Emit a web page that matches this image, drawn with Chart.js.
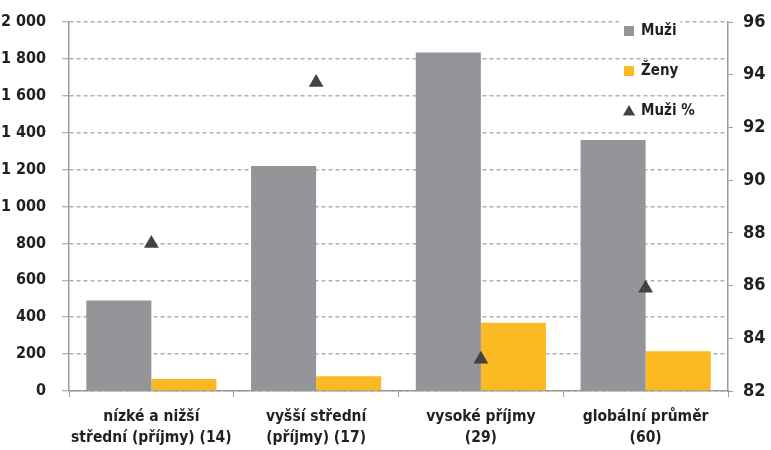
<!DOCTYPE html>
<html>
<head>
<meta charset="utf-8">
<script src="https://cdn.jsdelivr.net/npm/chart.js@4/dist/chart.umd.min.js"></script>
<style>
  html, body { margin: 0; padding: 0; background: #fff; }
  #wrap { width: 771px; height: 450px; position: relative; }
</style>
</head>
<body>
<div id="wrap"><canvas id="chart"></canvas></div>
<script>
// data
var categories = [
  ["nízké a nižší", "střední (příjmy) (14)"],
  ["vyšší střední", "(příjmy) (17)"],
  ["vysoké příjmy", "(29)"],
  ["globální průměr", "(60)"]
];
var muzi = [490, 1220, 1835, 1360];
var zeny = [65, 80, 370, 215];
var muziPct = [87.6, 93.7, 83.2, 85.9];
var leftTicks = [0, 200, 400, 600, 800, 1000, 1200, 1400, 1600, 1800, 2000];
var rightTicks = [82, 84, 86, 88, 90, 92, 94, 96];

var fontFamily = "'Liberation Sans Narrow', 'DejaVu Sans Condensed', sans-serif";
var textColor = "#231f20";
var axisColor = "#9b9b9b";

function spaced(v) {
  return String(v).replace(/\B(?=(\d{3})+(?!\d))/g, " ");
}

// legend drawn inside the plot, top right, with white boxes behind the items
var insideLegend = {
  id: "insideLegend",
  afterDraw: function (chart) {
    var ctx = chart.ctx;
    var area = chart.chartArea;
    var x = area.right - 105;
    var y0 = area.top + 8;
    var order = [1, 2, 0];
    ctx.save();
    ctx.font = "bold 15px " + fontFamily;
    ctx.textBaseline = "middle";
    order.forEach(function (idx, i) {
      var ds = chart.data.datasets[idx];
      var y = y0 + i * 40;
      var w = ctx.measureText(ds.label).width;
      ctx.fillStyle = "#fff";
      ctx.fillRect(x - 4, y - 9, w + 26, 19);
      if (ds.pointStyle == "triangle") {
        Chart.helpers.drawPoint(ctx, {
          pointStyle: "triangle", radius: 7, rotation: 0, borderWidth: 0
        }, x + 6, y + 2);
        ctx.fillStyle = ds.pointBackgroundColor;
        ctx.fill();
      } else {
        ctx.fillStyle = ds.backgroundColor;
        ctx.fillRect(x + 1, y - 4, 10, 10);
      }
      ctx.fillStyle = textColor;
      ctx.fillText(ds.label, x + 18, y + 1);
    });
    ctx.restore();
  }
};

var ctx = document.getElementById("chart").getContext("2d");
var chart = new Chart(ctx, {
  data: {
    labels: categories,
    datasets: [
      {
        type: "line",
        label: "Muži %",
        data: muziPct,
        yAxisID: "y1",
        showLine: false,
        pointStyle: "triangle",
        pointRadius: 8.5,
        pointBorderWidth: 0,
        pointBackgroundColor: "#404244",
        pointBorderColor: "#404244",
        order: 0
      },
      {
        type: "bar",
        label: "Muži",
        data: muzi,
        yAxisID: "y",
        backgroundColor: "#939598",
        categoryPercentage: 0.79,
        barPercentage: 1,
        order: 1
      },
      {
        type: "bar",
        label: "Ženy",
        data: zeny,
        yAxisID: "y",
        backgroundColor: "#fbb923",
        categoryPercentage: 0.79,
        barPercentage: 1,
        order: 2
      }
    ]
  },
  options: {
    responsive: true,
    maintainAspectRatio: false,
    animation: false,
    layout: { padding: { top: 22, right: 0, left: 0, bottom: 0 } },
    plugins: {
      legend: { display: false },
      tooltip: { enabled: false }
    },
    scales: {
      x: {
        offset: true,
        grid: {
          drawOnChartArea: false,
          drawTicks: true,
          tickLength: 6,
          tickColor: axisColor,
          color: axisColor
        },
        border: { display: true, color: axisColor, width: 1.5 },
        ticks: {
          color: textColor,
          padding: 10,
          maxRotation: 0,
          autoSkip: false,
          font: { family: fontFamily, size: 15.5, weight: "bold", lineHeight: 1.35 }
        },
        afterFit: function (scale) {
          scale.height = 59;
          scale.paddingLeft = 0;
          scale.paddingRight = 0;
        }
      },
      y: {
        position: "left",
        min: 0,
        max: 2000,
        afterBuildTicks: function (scale) {
          scale.ticks = leftTicks.map(function (v) { return { value: v }; });
        },
        grid: {
          color: "rgba(160,145,140,0.75)",
          lineWidth: 1.5,
          tickColor: axisColor,
          tickLength: 7,
          tickWidth: 1
        },
        border: { display: true, color: axisColor, width: 1.5, dash: [4, 3] },
        ticks: {
          color: textColor,
          padding: 16,
          font: { family: fontFamily, size: 16, weight: "bold" },
          callback: function (v) { return spaced(v); }
        },
        afterFit: function (scale) {
          scale.width = 69;
          scale.paddingTop = 0;
          scale.paddingBottom = 0;
        }
      },
      y1: {
        position: "right",
        min: 82,
        max: 96,
        afterBuildTicks: function (scale) {
          scale.ticks = rightTicks.map(function (v) { return { value: v }; });
        },
        grid: {
          drawOnChartArea: false,
          tickColor: axisColor,
          tickLength: 5
        },
        border: { display: true, color: axisColor, width: 1.5 },
        ticks: {
          color: textColor,
          padding: 10,
          font: { family: fontFamily, size: 18, weight: "bold" }
        },
        afterFit: function (scale) {
          scale.width = 43;
          scale.paddingTop = 0;
          scale.paddingBottom = 0;
        }
      }
    }
  },
  plugins: [insideLegend]
});
</script>
</body>
</html>
